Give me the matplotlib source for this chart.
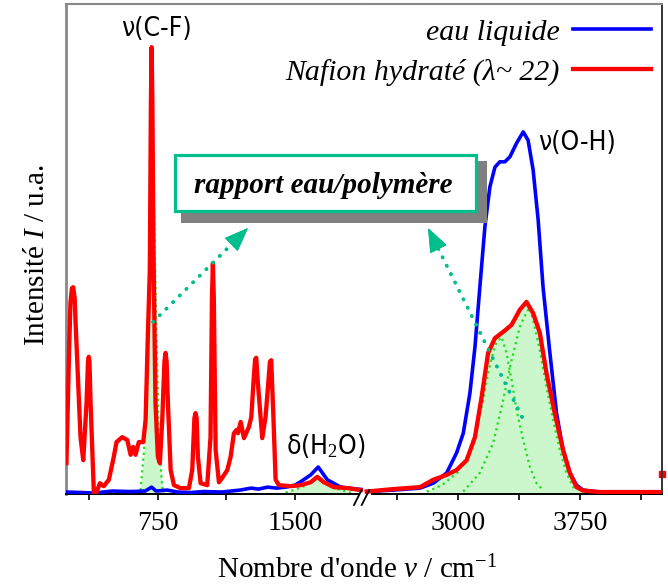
import matplotlib.pyplot as plt
from matplotlib.lines import Line2D
from matplotlib.patches import Rectangle
import numpy as np

plt.rcParams['mathtext.fontset'] = 'custom'
plt.rcParams['mathtext.rm'] = 'Liberation Serif'
plt.rcParams['mathtext.it'] = 'Liberation Serif:italic'
plt.rcParams['mathtext.bf'] = 'Liberation Serif:bold'

SERIF = 'Liberation Serif'
NARROW = ['DejaVu Sans']

# --- spectre, partie basse fréquence (250 - 1870 cm-1)
red_lo_x = [250, 265, 272, 280, 287, 295, 300, 327, 342, 360, 368, 372, 376, 382, 400, 409,
            433, 454, 482, 509, 524, 555, 583, 601, 615, 628, 646, 670, 683, 695, 706,
            712, 716, 720, 726, 737, 750, 761, 774, 786, 792, 798, 805, 820, 838, 874, 920,
            938, 950, 956, 962, 969, 984, 1020, 1038, 1046, 1051, 1056, 1066, 1084, 1102,
            1130, 1148, 1166, 1181, 1188, 1203, 1221, 1248, 1261, 1275, 1282, 1288, 1297,
            1321, 1339, 1354, 1363, 1370, 1382, 1394, 1412, 1476, 1531, 1586, 1622, 1658,
            1713, 1787, 1859]
red_lo_y = [6.3, 30.0, 39.0, 42.0, 42.2, 40.0, 35.0, 11.6, 6.9, 18.6, 27.0, 28.0, 27.0,
            18.6, 0.2, -0.2, 2.2, 1.6, 2.9, 7.6, 10.6, 11.6, 11.0, 8.0, 9.6, 8.0, 10.6,
            10.6, 15.1, 32.0, 45.7, 80.0, 91.2, 80.0, 49.8, 18.6, 7.6, 6.3, 15.1, 27.0,
            28.8, 27.0, 18.6, 4.9, 1.8, 1.2, 1.2, 4.9, 15.5, 16.5, 15.5, 7.6, 2.2, 1.8,
            11.6, 40.0, 47.1, 40.0, 9.0, 2.4, 3.3, 4.9, 7.6, 12.4, 13.1, 12.4, 14.7, 11.4,
            13.7, 15.7, 23.9, 27.5, 27.8, 22.7, 11.4, 15.7, 22.7, 27.0, 27.3, 15.7, 2.9,
            1.8, 1.6, 1.8, 2.4, 3.5, 2.4, 1.4, 1.2, 0.8]

blue_lo_x = [250, 330, 400, 500, 600, 680, 716, 740, 800, 860, 930, 1000, 1100, 1200,
             1260, 1300, 1350, 1400, 1450, 1500, 1531, 1586, 1627, 1677, 1750, 1841, 1870]
blue_lo_y = [0.4, 0.3, 0.2, 0.6, 0.5, 0.6, 1.4, 0.6, 0.8, 0.4, 0.3, 0.5, 0.4, 0.8,
             1.2, 1.0, 1.4, 1.2, 1.4, 1.8, 2.5, 3.9, 5.5, 2.9, 1.4, 1.0, 0.9]

# composantes (ajustement) - zone basse fréquence
cf_x = [655, 673, 688, 701, 706, 716, 732, 747, 755, 774, 787]
cf_y = [0.8, 8.4, 18.6, 32.0, 45.7, 91.2, 52.0, 25.3, 11.6, 1.4, 0.3]
dh_x = [1449, 1500, 1550, 1590, 1622, 1660, 1710, 1760, 1805]
dh_y = [0.3, 0.9, 1.6, 2.6, 3.4, 2.5, 1.3, 0.7, 0.3]

# --- spectre, partie haute fréquence (2420 - 4250 cm-1)
red_hi_x = [2437, 2600, 2765, 2846, 2929, 2990, 3052, 3103, 3144, 3184, 3226, 3277,
            3328, 3379, 3420, 3461, 3502, 3543, 3594, 3645, 3687, 3728, 3768, 3871,
            4055, 4252]
red_hi_y = [0.5, 1.0, 1.4, 2.9, 3.9, 4.9, 6.9, 11.6, 19.8, 28.8, 31.8, 33.1,
            34.5, 37.6, 39.2, 36.9, 32.9, 24.7, 16.5, 9.0, 4.3, 1.4, 0.7, 0.4,
            0.4, 0.4]

blue_hi_x = [2437, 2600, 2765, 2846, 2929, 2990, 3031, 3072, 3103, 3133, 3164, 3195,
             3226, 3256, 3287, 3318, 3359, 3400, 3430, 3461, 3492, 3522, 3564, 3605,
             3645, 3687, 3728, 3768, 3871, 4252]
blue_hi_y = [0.5, 0.8, 1.2, 2.2, 4.3, 8.4, 12.4, 20.6, 30.0, 42.2, 54.5, 62.7,
             66.7, 67.8, 67.8, 68.8, 71.6, 73.9, 72.2, 66.1, 55.9, 42.2, 28.8, 16.5,
             9.0, 4.3, 1.8, 0.8, 0.4, 0.4]

oh_a_x = [2806, 2900, 3000, 3060, 3100, 3150, 3184, 3215, 3236, 3267, 3297, 3328,
          3359, 3400, 3441, 3482, 3522]
oh_a_y = [0.5, 1.8, 4.5, 8.0, 12.0, 18.5, 24.7, 29.0, 31.0, 32.0, 28.8, 23.3,
          17.1, 11.0, 5.5, 2.2, 0.8]
oh_b_x = [3031, 3133, 3215, 3277, 3328, 3379, 3420, 3441, 3461, 3502, 3543, 3584,
          3625, 3666, 3707, 3789]
oh_b_y = [0.5, 4.3, 10.4, 19.2, 27.3, 34.1, 37.1, 38.0, 35.5, 29.4, 21.8, 15.1,
          9.0, 4.3, 1.4, 0.4]

stray_x = [4254]
stray_y = [4.1]

RED = '#ff0000'
BLUE = '#0000ff'
GREEN = '#22dd22'
FILL = '#ccf7cc'
TEAL = '#00bf8c'

W, H = 668, 588
fig = plt.figure(figsize=(W / 100, H / 100), dpi=100)


def fx(px):
    return px / W


def fy(py):
    return 1 - py / H


ax1 = fig.add_axes([fx(65.7), fy(494), fx(363) - fx(65.7), 490 / H])
ax2 = fig.add_axes([fx(363), fy(494), fx(662) - fx(363), 490 / H])

# partie gauche
ax1.fill_between(cf_x, cf_y, color=FILL, lw=0, zorder=1)
ax1.fill_between(dh_x, dh_y, color=FILL, lw=0, zorder=1)
ax1.plot(cf_x, cf_y, ':', color=GREEN, lw=1.6, zorder=2)
ax1.plot(dh_x, dh_y, ':', color=GREEN, lw=1.6, zorder=2)
ax1.plot(blue_lo_x, blue_lo_y, color=BLUE, lw=2.6, zorder=3)
ax1.plot(red_lo_x, red_lo_y, color=RED, lw=3.1, zorder=4)

# partie droite
rx = np.array(red_hi_x)
ry = np.array(red_hi_y)
m = (rx >= 2806) & (rx <= 3789)
ax2.fill_between(rx[m], ry[m], color=FILL, lw=0, zorder=1)
ax2.fill_between(oh_a_x, oh_a_y, color=FILL, lw=0, zorder=1)
ax2.fill_between(oh_b_x, oh_b_y, color=FILL, lw=0, zorder=1)
ax2.plot(oh_a_x, oh_a_y, ':', color=GREEN, lw=1.6, zorder=2)
ax2.plot(oh_b_x, oh_b_y, ':', color=GREEN, lw=1.6, zorder=2)
ax2.plot(blue_hi_x, blue_hi_y, color=BLUE, lw=2.6, zorder=3)
ax2.plot(red_hi_x, red_hi_y, color=RED, lw=3.1, zorder=4)
ax2.plot(stray_x, stray_y, 's', color=RED, ms=4, clip_on=False)

ax1.set_xlim(246, 1872)
ax2.set_xlim(2414, 4254)
for ax in (ax1, ax2):
    ax.set_ylim(0, 100)
    ax.set_yticks([])
    ax.tick_params(axis='x', direction='out', length=4, width=1.2, pad=8,
                   labelsize=20)
    ax.spines['bottom'].set_color('black')
    ax.spines['bottom'].set_linewidth(1.4)
    ax.spines['top'].set_color('#888888')
    ax.spines['top'].set_linewidth(1.5)
    ax.patch.set_alpha(0)

ax1.set_xticks([375, 750, 1125, 1500])
ax1.set_xticklabels(['', '750', '', '1500'], family=SERIF)
ax2.set_xticks([2625, 3000, 3375, 3750, 4125])
ax2.set_xticklabels(['', '3000', '', '3750', ''], family=SERIF)

ax1.spines['right'].set_visible(False)
ax1.spines['left'].set_color('#888888')
ax1.spines['left'].set_linewidth(2)
ax1.spines['bottom'].set_bounds(246, 1845)
ax2.spines['left'].set_visible(False)
ax2.spines['right'].set_color('#333333')
ax2.spines['right'].set_linewidth(1.4)
ax2.spines['bottom'].set_bounds(2470, 4254)

# coupure d'axe
for x0 in (354, 361.7):
    fig.add_artist(Line2D([fx(x0), fx(x0 + 7.6)], [fy(505), fy(490)],
                          color='black', lw=1.3))

# légende
handles = [Line2D([], [], color=BLUE, lw=2.6), Line2D([], [], color=RED, lw=3.1)]
labels = ['eau liquide', 'Nafion hydraté (λ~ 22)']
fig.legend(handles, labels, loc='upper right', bbox_to_anchor=(fx(651), fy(19)),
           markerfirst=False, frameon=False, borderpad=0, borderaxespad=0,
           handlelength=2.6, handletextpad=0.45, labelspacing=0.42,
           prop=dict(family=SERIF, style='italic', size=21.5))

# attributions
fig.text(fx(156.5), fy(36), 'ν(C-F)', ha='center', va='baseline',
         family=NARROW, stretch='condensed', size=19)
fig.text(fx(538), fy(150), 'ν(O-H)', ha='left', va='baseline',
         family=NARROW, stretch='condensed', size=19)
fig.text(fx(286), fy(454), 'δ(H$_2$O)', ha='left', va='baseline',
         family=NARROW, stretch='condensed', size=19)

# encadré
fig.add_artist(Rectangle((fx(181), fy(223)), (486.7 - 181) / W, (223 - 161) / H,
                         transform=fig.transFigure, facecolor='#808080',
                         edgecolor='none', zorder=5))
fig.add_artist(Rectangle((fx(174.8), fy(211.2)), (475.8 - 174.8) / W,
                         (211.2 - 154.8) / H, transform=fig.transFigure,
                         facecolor='white', edgecolor=TEAL, lw=2.3, zorder=6))
fig.text(fx(323), fy(193), 'rapport eau/polymère', ha='center', va='baseline',
         family=SERIF, weight='bold', style='italic', size=21, zorder=7)


# flèches pointillées (trait pointillé + pointe pleine)
def dotted_arrow(tail, tip):
    tail = np.array(tail, float)
    tip = np.array(tip, float)
    u = (tip - tail) / np.hypot(*(tip - tail))
    base = tip - 22 * u
    fig.add_artist(plt.annotate(
        '', xy=(fx(base[0]), fy(base[1])), xycoords='figure fraction',
        xytext=(fx(tail[0]), fy(tail[1])), textcoords='figure fraction',
        arrowprops=dict(arrowstyle='-', color=TEAL, lw=2.5,
                        linestyle=(0, (0.1, 2.6)), capstyle='round',
                        shrinkA=0, shrinkB=0)))
    fig.add_artist(plt.annotate(
        '', xy=(fx(tip[0]), fy(tip[1])), xycoords='figure fraction',
        xytext=(fx(base[0]), fy(base[1])), textcoords='figure fraction',
        arrowprops=dict(arrowstyle='-|>,head_length=1.55,head_width=0.6',
                        color=TEAL, lw=0.8, shrinkA=0, shrinkB=0)))


dotted_arrow((153, 322), (248, 228))
dotted_arrow((522, 417), (428, 228))

# titres des axes
fig.text(fx(37), fy(255), 'Intensité $I$ / u.a.', rotation=90, ha='center',
         va='center', family=SERIF, size=21)
fig.text(fx(357), fy(578), "Nombre d'onde $\\nu$ / cm$^{-1}$", ha='center',
         va='baseline', family=SERIF, size=21)

fig.savefig('out.png', dpi=100)
